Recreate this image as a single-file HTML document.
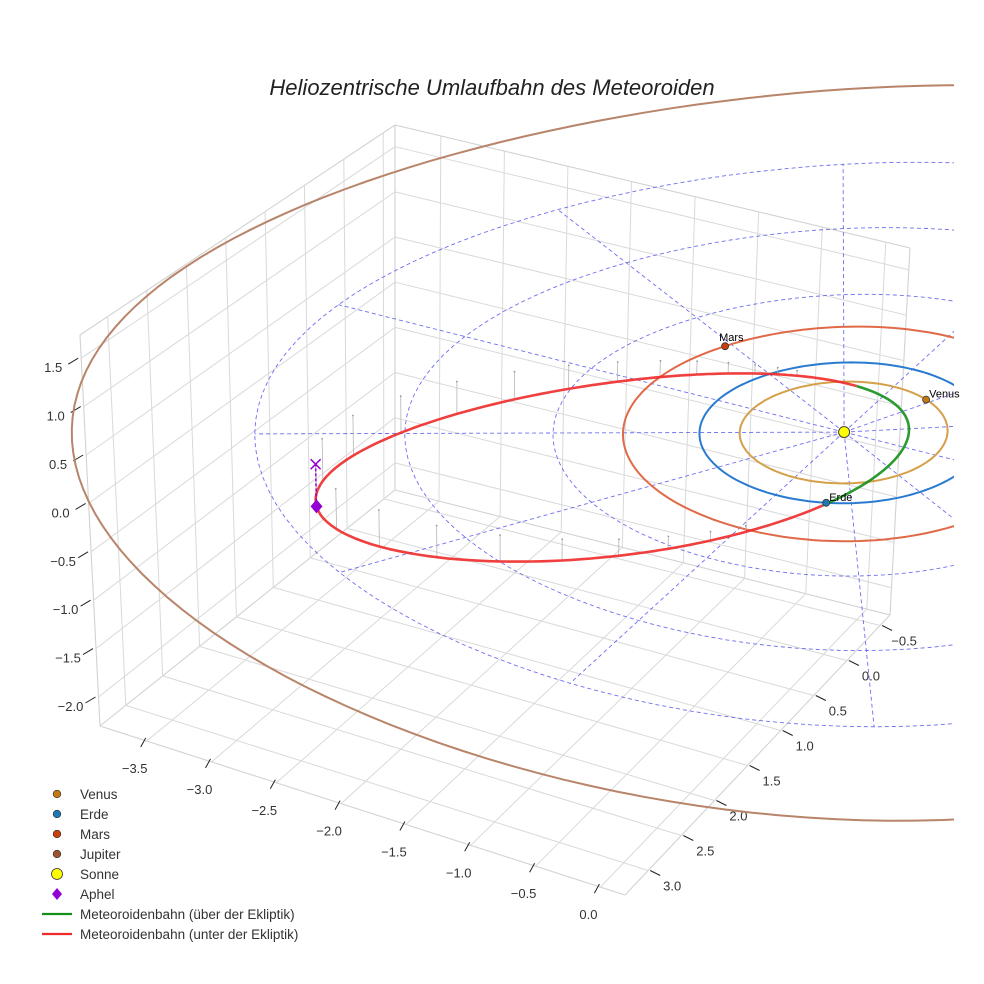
<!DOCTYPE html>
<html><head><meta charset="utf-8"><style>
html,body{margin:0;padding:0;background:#fff}
svg{display:block;font-family:"Liberation Sans",sans-serif}
</style></head><body>
<svg id="chart" width="984" height="984" viewBox="0 0 984 984" xmlns="http://www.w3.org/2000/svg">
<defs><clipPath id="clipData"><rect x="0" y="0" width="954" height="984"/></clipPath></defs>
<text x="492" y="95" text-anchor="middle" font-size="22" font-style="italic" fill="#222">Heliozentrische Umlaufbahn des Meteoroiden</text>
<g id="box"></g>
<g id="data" clip-path="url(#clipData)"></g>
<g id="labels"></g>
<g id="legend"></g>
</svg>
<script>
// ---- data ----
const xTicks = [-3.5, -3.0, -2.5, -2.0, -1.5, -1.0, -0.5, 0.0];
const yTicks = [-0.5, 0.0, 0.5, 1.0, 1.5, 2.0, 2.5, 3.0];
const zTicks = [-2.0, -1.5, -1.0, -0.5, 0.0, 0.5, 1.0, 1.5];
const planetNames = ["Venus", "Erde", "Mars", "Jupiter"];
const planetRadii = [0.723, 1.0, 1.524, 5.203];
const planetAngles = [-66, 69, 208, -15];
const gridRadii = [1, 2, 3, 4];
const gridAngles = [0, 30, 60, 90, 120, 150, 180, 210, 240, 270, 300, 330];
const meteorPerihelion = [0.45];
const meteorAphelion = [3.65];
const meteorPeriLongitude = [-36.9];
const meteorNodeAnomaly = [-74];
const meteorInclination = [7.2];

// ---- styles ----
const planetColors = ["#c47a12", "#1f77b4", "#c8400e", "#a0522d"];
const orbitColors = ["#d4a04a", "#2a7bd0", "#e06a48", "#b8846a"];

// ---- projection (axis functions) ----
const XMIN=-3.86, XMAX=0.19, YMIN=-0.65, YMAX=3.35, ZMIN=-2.3, ZMAX=1.74;
const C = {b00:[395,490], b10:[890,615], b01:[100,726], b11:[625,895],
           t00:[395,125], t10:[910,248], t01:[80,335], t11:[632,480]};
function L(a,b,t){return [a[0]+(b[0]-a[0])*t, a[1]+(b[1]-a[1])*t];}
function P(x,y,z){
  const u=(x-XMIN)/(XMAX-XMIN), v=(y-YMIN)/(YMAX-YMIN), w=(z-ZMIN)/(ZMAX-ZMIN);
  const b=L(L(C.b00,C.b10,u),L(C.b01,C.b11,u),v);
  const t=L(L(C.t00,C.t10,u),L(C.t01,C.t11,u),v);
  return L(b,t,w);
}
const SHIFT=[11,-9];
function PD(x,y,z){const p=P(x,y,z);return [p[0]+SHIFT[0],p[1]+SHIFT[1]];}

const NS="http://www.w3.org/2000/svg";
function mk(tag,attrs,parent){const e=document.createElementNS(NS,tag);for(const k in attrs)e.setAttribute(k,attrs[k]);parent.appendChild(e);return e;}
function line(a,b,attrs,parent){return mk("line",Object.assign({x1:a[0].toFixed(1),y1:a[1].toFixed(1),x2:b[0].toFixed(1),y2:b[1].toFixed(1)},attrs),parent);}
function pathD(pts){return pts.map((p,i)=>(i?"L":"M")+p[0].toFixed(1)+","+p[1].toFixed(1)).join("");}
function fmt(v){return (v<0?"\u2212":"")+Math.abs(v).toFixed(1);}

const box=document.getElementById("box");
const data=document.getElementById("data");
const labels=document.getElementById("labels");
const legend=document.getElementById("legend");
const gStyle={stroke:"#d9d9d9","stroke-width":"1"};

[[P(XMIN,YMIN,ZMIN),P(XMAX,YMIN,ZMIN)],[P(XMIN,YMIN,ZMIN),P(XMIN,YMAX,ZMIN)],[P(XMIN,YMIN,ZMIN),P(XMIN,YMIN,ZMAX)],
 [P(XMAX,YMIN,ZMIN),P(XMAX,YMIN,ZMAX)],[P(XMIN,YMAX,ZMIN),P(XMIN,YMAX,ZMAX)],
 [P(XMIN,YMIN,ZMAX),P(XMAX,YMIN,ZMAX)],[P(XMIN,YMIN,ZMAX),P(XMIN,YMAX,ZMAX)],
 [P(XMIN,YMAX,ZMIN),P(XMAX,YMAX,ZMIN)],[P(XMAX,YMIN,ZMIN),P(XMAX,YMAX,ZMIN)]].forEach(s=>{
  const e=line(s[0],s[1],{stroke:"#d2d2d2","stroke-width":"1.1"},box);
  
  
});
xTicks.forEach(x=>{
  const a=line(P(x,YMIN,ZMIN),P(x,YMAX,ZMIN),gStyle,box);
  
  
  const b=line(P(x,YMIN,ZMIN),P(x,YMIN,ZMAX),gStyle,box);
  
  
  const e=P(x,YMAX,ZMIN);
  const t=line([e[0]-1,e[1]-3],[e[0]-6,e[1]+6],{stroke:"#222","stroke-width":"1"},box);
  
  
  const l=mk("text",{x:(e[0]-12).toFixed(1),y:(e[1]+32).toFixed(1),"text-anchor":"middle","font-size":"13",fill:"#333"},box);
  l.textContent=fmt(x);
  
  
});
yTicks.forEach(y=>{
  const a=line(P(XMIN,y,ZMIN),P(XMAX,y,ZMIN),gStyle,box);
  
  
  const b=line(P(XMIN,y,ZMIN),P(XMIN,y,ZMAX),gStyle,box);
  
  
  const e=P(XMAX,y,ZMIN);
  const t=line([e[0]+2,e[1]],[e[0]+12,e[1]+5],{stroke:"#222","stroke-width":"1"},box);
  
  
  const l=mk("text",{x:(e[0]+24).toFixed(1),y:(e[1]+20).toFixed(1),"text-anchor":"middle","font-size":"13",fill:"#333"},box);
  l.textContent=fmt(y);
  
  
});
zTicks.forEach(z=>{
  const a=line(P(XMIN,YMIN,z),P(XMAX,YMIN,z),gStyle,box);
  
  
  const b=line(P(XMIN,YMIN,z),P(XMIN,YMAX,z),gStyle,box);
  
  
  const e=P(XMIN,YMAX,z);
  const t=line([e[0]-3,e[1]],[e[0]-13,e[1]+6],{stroke:"#222","stroke-width":"1"},box);
  
  
  const l=mk("text",{x:(e[0]-28).toFixed(1),y:(e[1]+14).toFixed(1),"text-anchor":"middle","font-size":"13",fill:"#333"},box);
  l.textContent=fmt(z);
  
  
});

// ---- ecliptic polar grid ----
gridRadii.forEach(r=>{
  const pts=[];for(let a=0;a<=360;a+=3){const t=a*Math.PI/180;pts.push(PD(r*Math.cos(t),r*Math.sin(t),0));}
  const e=mk("path",{d:pathD(pts),fill:"none",stroke:"#5555ee","stroke-width":"0.9","stroke-dasharray":"4,3",opacity:"0.85"},data);
  
  
});
gridAngles.forEach(a=>{
  const t=a*Math.PI/180, R=gridRadii[gridRadii.length-1];
  const e=line(PD(0,0,0),PD(R*Math.cos(t),R*Math.sin(t),0),{stroke:"#5555ee","stroke-width":"0.9","stroke-dasharray":"4,3",opacity:"0.85"},data);
  
  
});

// ---- planet orbits ----
planetRadii.forEach((r,i)=>{
  const pts=[];for(let a=0;a<=360;a+=2){const t=a*Math.PI/180;pts.push(PD(r*Math.cos(t),r*Math.sin(t),0));}
  const e=mk("path",{d:pathD(pts),fill:"none",stroke:orbitColors[i],"stroke-width":"2"},data);
  
  
});

// ---- meteoroid orbit ----
const q=meteorPerihelion[0], Qa=meteorAphelion[0];
const a=(q+Qa)/2, ecc=(Qa-q)/(Qa+q), pLat=a*(1-ecc*ecc);
const om=meteorPeriLongitude[0]*Math.PI/180, nn=meteorNodeAnomaly[0]*Math.PI/180, inc=meteorInclination[0]*Math.PI/180;
function meteor(nuDeg){
  const nu=nuDeg*Math.PI/180, r=pLat/(1+ecc*Math.cos(nu));
  const z=r*Math.sin(inc)*Math.sin(nu-nn);
  const rp=Math.sqrt(Math.max(r*r-z*z,0));
  return [rp*Math.cos(nu+om), rp*Math.sin(nu+om), z];
}
const mpts=[];for(let d=-180;d<=180;d+=1)mpts.push(meteor(d));
mpts.forEach((p,i)=>{
  if(i%6!==0||p[2]>-0.05)return;
  const s=line(PD(p[0],p[1],p[2]),PD(p[0],p[1],0),{stroke:"#b5b5b5","stroke-width":"0.8"},data);
  
  
  const top=PD(p[0],p[1],0);
  const d=mk("circle",{cx:top[0].toFixed(1),cy:top[1].toFixed(1),r:"0.9",fill:"#999"},data);
  
  
});
let run=[mpts[0]];
function flush(){
  if(run.length<2)return;
  const above=run[Math.floor(run.length/2)][2]>=0;
  const e=mk("path",{d:pathD(run.map(p=>PD(p[0],p[1],p[2]))),fill:"none",stroke:above?"#14901a":"#ee2a2a","stroke-width":"2.6","stroke-linejoin":"round",opacity:"0.9"},data);
  
  
}
for(let i=1;i<mpts.length;i++){
  const s0=mpts[i-1][2]>=0, s1=mpts[i][2]>=0;
  run.push(mpts[i]);
  if(s0!==s1){flush();run=[mpts[i]];}
}
flush();

const ap=meteor(180);
const apS=PD(ap[0],ap[1],ap[2]), apE=PD(ap[0],ap[1],0);
const apl=line(apS,apE,{stroke:"#9400d3","stroke-width":"1.5","stroke-dasharray":"3,2"},data);


const apx=mk("path",{d:`M${apE[0]-5},${apE[1]-5}L${apE[0]+5},${apE[1]+5}M${apE[0]-5},${apE[1]+5}L${apE[0]+5},${apE[1]-5}`,stroke:"#9400d3","stroke-width":"1.5",fill:"none"},data);


const apd=mk("path",{d:`M${apS[0]},${apS[1]-7}L${apS[0]+6},${apS[1]}L${apS[0]},${apS[1]+7}L${apS[0]-6},${apS[1]}Z`,fill:"#9400d3"},data);



planetRadii.forEach((r,i)=>{
  const t=planetAngles[i]*Math.PI/180, p=PD(r*Math.cos(t),r*Math.sin(t),0);
  const c=mk("circle",{cx:p[0].toFixed(1),cy:p[1].toFixed(1),r:"3.5",fill:planetColors[i],stroke:"#333","stroke-width":"0.8"},data);
  
  
  if(p[0]<954&&p[0]>0&&p[1]>0&&p[1]<984){
    const l=mk("text",{x:(p[0]+(i===2?-6:3)).toFixed(1),y:(p[1]+(i===2?-5:-2)).toFixed(1),"font-size":"11",fill:"#000"},labels);
    l.textContent=planetNames[i];
    
    
  }
});
const sp=PD(0,0,0);
const sun=mk("circle",{cx:sp[0].toFixed(1),cy:sp[1].toFixed(1),r:"5.5",fill:"#ffff00",stroke:"#333","stroke-width":"0.9"},data);



// ---- legend ----
const legItems=[
 {n:"Venus",t:"dot",c:planetColors[0]},{n:"Erde",t:"dot",c:planetColors[1]},{n:"Mars",t:"dot",c:planetColors[2]},
 {n:"Jupiter",t:"dot",c:planetColors[3]},{n:"Sonne",t:"sun",c:"#ffff00"},{n:"Aphel",t:"dia",c:"#9400d3"},
 {n:"Meteoroidenbahn (über der Ekliptik)",t:"line",c:"#14901a"},{n:"Meteoroidenbahn (unter der Ekliptik)",t:"line",c:"#ee2a2a"}];
legItems.forEach((it,i)=>{
  const y=794+i*20, x=57;
  const g=mk("g",{},legend);
  
  
  if(it.t==="dot")mk("circle",{cx:x,cy:y,r:"3.8",fill:it.c,stroke:"#333","stroke-width":"0.7"},g);
  else if(it.t==="sun")mk("circle",{cx:x,cy:y,r:"5.5",fill:it.c,stroke:"#333","stroke-width":"0.8"},g);
  else if(it.t==="dia")mk("path",{d:`M${x},${y-6}L${x+5},${y}L${x},${y+6}L${x-5},${y}Z`,fill:it.c},g);
  else mk("line",{x1:x-15,y1:y,x2:x+15,y2:y,stroke:it.c,"stroke-width":"2.2"},g);
  const t=mk("text",{x:80,y:y+5,"font-size":"13.5",fill:"#333"},g);
  t.textContent=it.n;
});
</script>
</body></html>
